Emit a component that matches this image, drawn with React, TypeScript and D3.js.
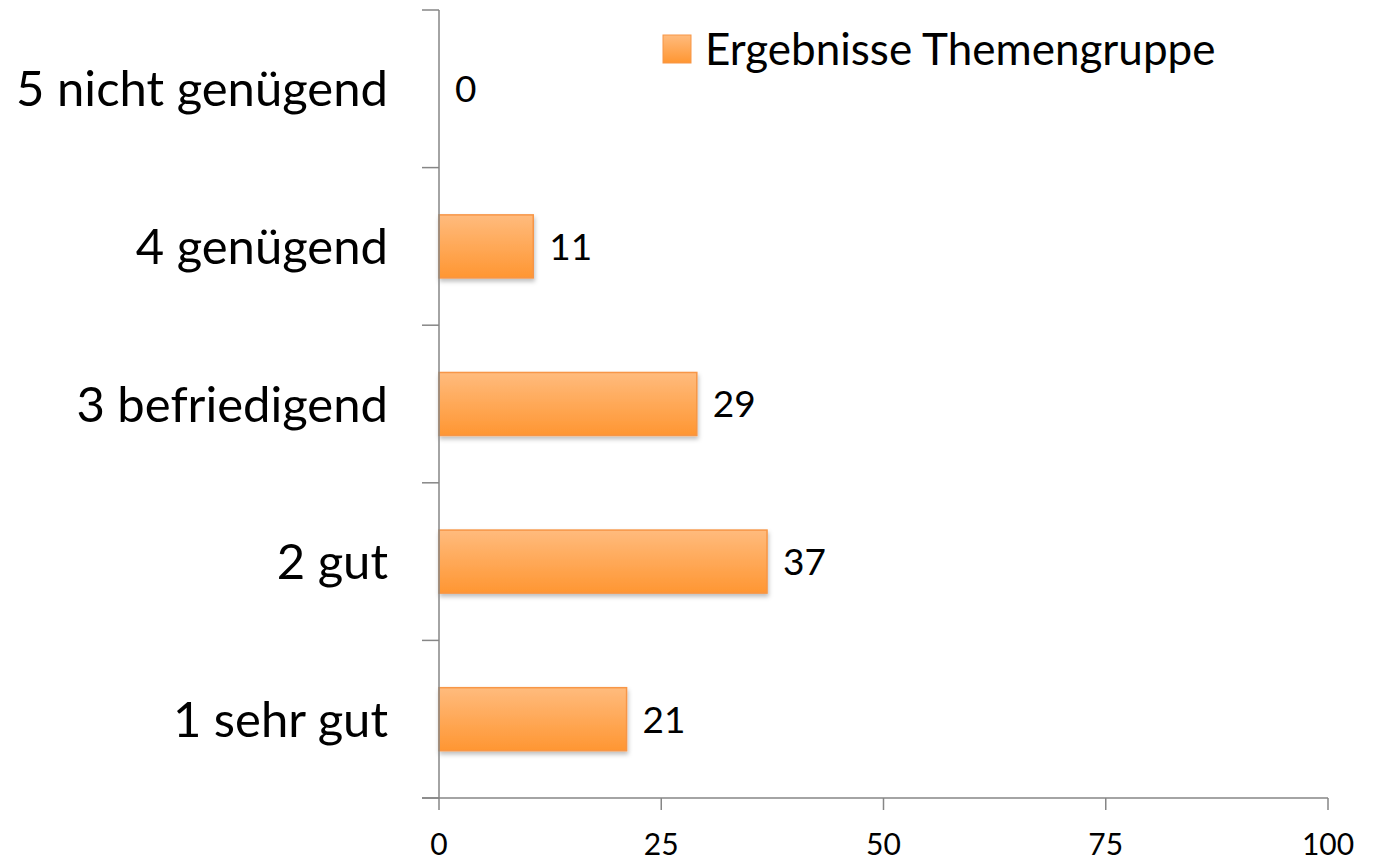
import React, { useEffect, useRef } from "react"
import * as d3 from "d3"

const categories = ["5 nicht genügend", "4 genügend", "3 befriedigend", "2 gut", "1 sehr gut"]
const values = [0, 10.6, 29, 36.9, 21.1]
const valueLabels = ["0", "11", "29", "37", "21"]
const xTicks = [0, 25, 50, 75, 100]
const seriesName = "Ergebnisse Themengruppe"

const FONT = "Lato, 'Open Sans', sans-serif"

const App = () => {
  const ref = useRef<SVGSVGElement>(null)

  useEffect(() => {
    const svg = d3.select(ref.current)
    svg.selectAll("*").remove()

    const x = d3.scaleLinear().domain([0, 100]).range([439, 1328])
    const y = d3
      .scaleBand<string>()
      .domain(categories)
      .range([10, 798])
      .paddingInner(0.6)
      .paddingOuter(0.3)

    const defs = svg.append("defs")
    const grad = defs
      .append("linearGradient")
      .attr("id", "bar-grad")
      .attr("x1", 0)
      .attr("y1", 0)
      .attr("x2", 0)
      .attr("y2", 1)
    grad.append("stop").attr("offset", "0%").attr("stop-color", "#ffbb7d")
    grad.append("stop").attr("offset", "100%").attr("stop-color", "#ff9632")

    const shadow = defs.append("filter").attr("id", "shadow").attr("x", "-10%").attr("y", "-10%").attr("width", "130%").attr("height", "140%")
    shadow
      .append("feDropShadow")
      .attr("dx", 1)
      .attr("dy", 3)
      .attr("stdDeviation", 2)
      .attr("flood-color", "#000")
      .attr("flood-opacity", 0.25)

    // bars
    svg
      .append("g")
      .selectAll("rect")
      .data(values.map((v, i) => ({ v, c: categories[i] })).filter((d) => d.v > 0))
      .join("rect")
      .attr("x", x(0))
      .attr("y", (d) => y(d.c)!)
      .attr("width", (d) => x(d.v) - x(0))
      .attr("height", y.bandwidth())
      .attr("fill", "url(#bar-grad)")
      .attr("stroke", "#f79646")
      .attr("stroke-width", 1.5)
      .attr("filter", "url(#shadow)")

    // value labels
    svg
      .append("g")
      .selectAll("text")
      .data(values)
      .join("text")
      .attr("x", (d) => x(d) + 16)
      .attr("y", (_, i) => y(categories[i])! + y.bandwidth() / 2)
      .attr("dy", "0.36em")
      .attr("font-family", FONT)
      .attr("font-size", 37)
      .attr("fill", "#000")
      .text((_, i) => valueLabels[i])

    // y axis
    const yAxis = svg.append("g").attr("stroke", "#868686").attr("stroke-width", 1.5)
    yAxis.append("line").attr("x1", x(0)).attr("x2", x(0)).attr("y1", 10).attr("y2", 798)
    const bounds = [...categories.map((c) => y(c)! - y.step() * 0.3), 798]
    yAxis
      .selectAll("line.tick")
      .data(bounds)
      .join("line")
      .attr("class", "tick")
      .attr("x1", x(0) - 17)
      .attr("x2", x(0))
      .attr("y1", (d) => d)
      .attr("y2", (d) => d)

    svg
      .append("g")
      .selectAll("text")
      .data(categories)
      .join("text")
      .attr("x", 388)
      .attr("y", (d) => y(d)! + y.bandwidth() / 2)
      .attr("dy", "0.36em")
      .attr("text-anchor", "end")
      .attr("font-family", FONT)
      .attr("font-size", 49)
      .attr("fill", "#000")
      .text((d) => d)

    // x axis
    const xAxis = svg.append("g").attr("stroke", "#868686").attr("stroke-width", 1.5)
    xAxis.append("line").attr("x1", x(0) - 17).attr("x2", x(100)).attr("y1", 798).attr("y2", 798)
    xAxis
      .selectAll("line.tick")
      .data(xTicks)
      .join("line")
      .attr("class", "tick")
      .attr("x1", (d) => x(d))
      .attr("x2", (d) => x(d))
      .attr("y1", 798)
      .attr("y2", 810)

    svg
      .append("g")
      .selectAll("text")
      .data(xTicks)
      .join("text")
      .attr("x", (d) => x(d))
      .attr("y", 855)
      .attr("text-anchor", "middle")
      .attr("font-family", FONT)
      .attr("font-size", 30)
      .attr("fill", "#000")
      .text((d) => d)

    // legend
    const legend = svg.append("g").attr("transform", "translate(663,35)")
    legend
      .append("rect")
      .attr("width", 28)
      .attr("height", 28)
      .attr("fill", "url(#bar-grad)")
      .attr("stroke", "#f79646")
      .attr("stroke-width", 1)
    legend
      .append("text")
      .attr("x", 42)
      .attr("y", 14)
      .attr("dy", "0.36em")
      .attr("font-family", FONT)
      .attr("font-size", 44)
      .attr("fill", "#000")
      .text(seriesName)
  }, [])

  return (
    <svg
      ref={ref}
      width={1375}
      height={862}
      style={{ position: "absolute", left: 0, top: 0, background: "#fff" }}
    />
  )
}

export default App
